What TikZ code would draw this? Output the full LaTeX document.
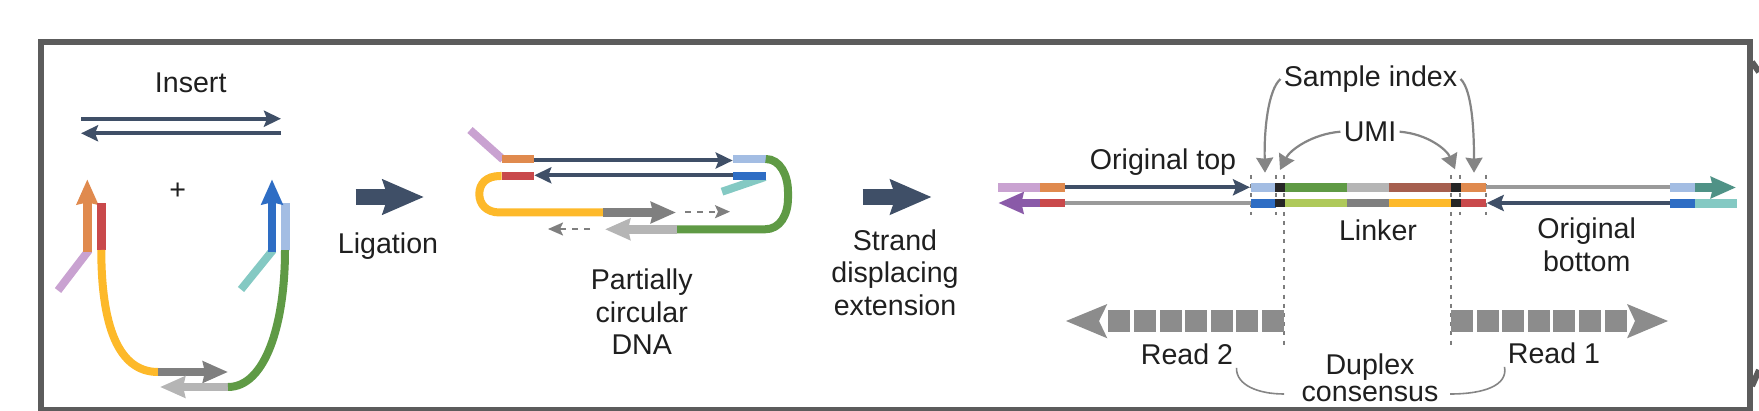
\documentclass[tikz,border=0pt]{standalone}
\usepackage{fontspec}
\setmainfont{Liberation Sans}
\usetikzlibrary{arrows.meta}
\definecolor{cFrame}{HTML}{5C5C5C}
\definecolor{cNavy}{HTML}{3F4F67}
\definecolor{cOrange}{HTML}{E08A4E}
\definecolor{cRed}{HTML}{C9494B}
\definecolor{cLilac}{HTML}{C9A2D1}
\definecolor{cPurple}{HTML}{8A5AA8}
\definecolor{cYellow}{HTML}{FDB92A}
\definecolor{cDark}{HTML}{7F7F7F}
\definecolor{cRead}{HTML}{8C8C8C}
\definecolor{cLight}{HTML}{B5B5B5}
\definecolor{cGreen}{HTML}{5F9A45}
\definecolor{cLime}{HTML}{AFC95A}
\definecolor{cBrown}{HTML}{A65F4F}
\definecolor{cPale}{HTML}{A3BDE3}
\definecolor{cBlue}{HTML}{2E6DC4}
\definecolor{cTeal}{HTML}{84C9C3}
\definecolor{cSea}{HTML}{4F9286}
\definecolor{cLead}{HTML}{858585}
\tikzset{
    label/.style={font=\fontsize{14.3}{16.2}\selectfont, text=black!88, align=center, inner sep=1.5pt},
    strand/.style={line width=4pt, line cap=butt},
    thinarrow/.style={cNavy, line width=2pt, -{Stealth[length=8.5pt,width=8pt,inset=1.5pt]}},
    fatarrow/.style={line width=4.2pt, -{Stealth[length=12.5pt,width=10.5pt,inset=1pt]}},
    dasharrow/.style={cDark, line width=1pt, dashed, -{Stealth[length=7.5pt,width=6.5pt,inset=1.5pt]}},
    bigarrow/.style={cNavy, line width=8pt, -{Stealth[length=20.5pt,width=17pt,inset=2.5pt]}},
    pointer/.style={cLead, line width=1.1pt, -{Stealth[length=7.5pt,width=8.5pt,inset=0.5pt]}},
    brace/.style={cLead, line width=0.8pt},
    cut/.style={cFrame!80, line width=0.8pt, dash pattern=on 2pt off 2.6pt}
}
\begin{document}
\begin{tikzpicture}[x=0.5pt,y=-0.5pt]
    \useasboundingbox (0,0) rectangle (1759,411);
    \draw[cFrame, line width=3pt] (41,42.5) rectangle (1749.7,410);
    \draw[cFrame, line width=3pt] (1752,62) -- (1759,72);
    \draw[cFrame, line width=3pt] (1752,386) -- (1759,370);

    \node[label] (insert) at (190.7,83) {Insert};
    \draw[thinarrow] (81,118.7) -- (281,118.7);
    \draw[thinarrow] (281,133.3) -- (81,133.3);
    \node[label] (plus) at (177.7,191.7) {+};

    \draw[strand, cLilac] (89,250) -- (58,290.5);
    \draw[fatarrow, cOrange] (87.3,252) -- (87.3,179.3);
    \fill[cRed] (97,202.7) rectangle (105.7,250);
    \draw[strand, cYellow] (101.3,250) .. controls (101.3,325) and (118,372) .. (158,372);
    \draw[fatarrow, cDark] (158,372) -- (228,372);
    \draw[fatarrow, cLight] (228,387) -- (160,387);
    \draw[strand, cGreen] (228,387) .. controls (265,387) and (285,325) .. (285,250);
    \fill[cPale] (281,202.7) rectangle (289.5,250);
    \draw[strand, cTeal] (273,250) -- (241,289.5);
    \draw[fatarrow, cBlue] (272,252) -- (272,179.3);

    \draw[bigarrow] (355.7,197) -- (424,197);
    \node[label] (ligation) at (388,246) {Ligation};

    \draw[strand, cLilac] (470,130) -- (503,159.5);
    \fill[cOrange] (501.7,155) rectangle (533.7,163.3);
    \draw[thinarrow] (533.7,160.5) -- (732.7,160.5);
    \fill[cPale] (732.7,155) rectangle (765.7,163.3);
    \fill[cRed] (501.7,171.7) rectangle (533.7,180.3);
    \draw[thinarrow] (732.7,175.3) -- (534.3,175.3);
    \draw[strand, cTeal] (765,177) -- (722,191.7);
    \fill[cBlue] (732.7,171.7) rectangle (765.7,180.3);
    \draw[strand, cGreen] (765.7,159) .. controls (780,159) and (788,175) .. (788,192) -- (788,198) .. controls (788,215) and (780,229.3) .. (765,229.3) -- (676.7,229.3);
    \draw[strand, cYellow] (501.7,176) -- (500,176) .. controls (486,176) and (479.3,184) .. (479.3,194) .. controls (479.3,204) and (486,212.5) .. (500,212.5) -- (603.3,212.5);
    \draw[fatarrow, cDark] (603.3,212.5) -- (676,212.5);
    \draw[fatarrow, cLight] (676.7,229.3) -- (605,229.3);
    \draw[dasharrow] (685,211.7) -- (730,211.7);
    \draw[dasharrow] (590,229) -- (548,229);
    \node[label] (circular) at (641.7,312) {Partially\\[0.05pt]circular\\[0.05pt]DNA};

    \draw[bigarrow] (862.7,197) -- (931.7,197);
    \node[label] (extension) at (895,272.5) {Strand\\[0.05pt]displacing\\[0.05pt]extension};

    \draw[cut] (1251,175) -- (1251,215);
    \draw[cut] (1276,175) -- (1276,215);
    \draw[cut] (1284,175) -- (1284,347);
    \draw[cut] (1451,175) -- (1451,349);
    \draw[cut] (1460,175) -- (1460,215);
    \draw[cut] (1485.7,175) -- (1485.7,215);

    \fill[cLilac] (998.3,183.3) rectangle (1040,191.7);
    \fill[cOrange] (1040,183.3) rectangle (1064.7,191.7);
    \draw[thinarrow] (1064.7,187.3) -- (1250,187.3);
    \draw[cLight!85!black, line width=2pt] (1064.7,203) -- (1250.7,203);
    \draw[fatarrow, cPurple] (1040,203) -- (998.3,203);
    \fill[cRed] (1040,199) rectangle (1064.7,207.5);
    \fill[cPale] (1250.7,183.3) rectangle (1276,191.7);
    \fill[cBlue] (1250.7,198.7) rectangle (1276,207.7);
    \fill[black!85] (1275,183.3) rectangle (1285,191.7);
    \fill[black!85] (1275,199) rectangle (1285,207.5);
    \fill[cGreen] (1285,183.3) rectangle (1347.3,191.7);
    \fill[cLight] (1347.3,183.3) rectangle (1389.3,191.7);
    \fill[cBrown] (1389.3,183.3) rectangle (1450.7,191.7);
    \fill[cLime] (1285,199) rectangle (1347.3,207.5);
    \fill[cDark] (1347.3,199) rectangle (1389.3,207.5);
    \fill[cYellow] (1389.3,199) rectangle (1450.7,207.5);
    \fill[black!85] (1450.7,183.3) rectangle (1460.5,191.7);
    \fill[black!85] (1450.7,199) rectangle (1460.5,207.5);
    \fill[cOrange] (1460.5,183.3) rectangle (1485.7,191.7);
    \fill[cRed] (1460.5,199) rectangle (1485.7,207.5);
    \draw[cLight!85!black, line width=2pt] (1485.7,187.3) -- (1670,187.3);
    \draw[thinarrow] (1670,203) -- (1486.7,203);
    \fill[cPale] (1670,183.3) rectangle (1695,191.7);
    \draw[fatarrow, cSea] (1695,187.5) -- (1736,187.5);
    \fill[cBlue] (1670,198.7) rectangle (1695,207.7);
    \fill[cTeal] (1695,198.7) rectangle (1736.7,207.7);

    \node[label] (original) at (1163,161.7) {Original top};
    \node[label] (bottom) at (1586.7,245) {Original\\[0.05pt]bottom};
    \node[label] (linker) at (1378,230) {Linker};
    \node[label] (sample) at (1370.5,79) {Sample index};
    \node[label] (umi) at (1370,131.7) {UMI};
    \coordinate (sampleleft) at (1265,172.7);
    \coordinate (sampleright) at (1474,172.7);
    \coordinate (umileft) at (1280,170);
    \coordinate (umiright) at (1455,169.3);
    \draw[pointer] (sample.west) .. controls (1268,90) and (1264,130) .. (sampleleft);
    \draw[pointer] (sample.east) .. controls (1472,90) and (1474,130) .. (sampleright);
    \draw[pointer] (umi.west) .. controls (1312,134) and (1290,150) .. (umileft);
    \draw[pointer] (umi.east) .. controls (1428,134) and (1447,150) .. (umiright);

    \foreach \i in {0,...,6} {
        \fill[cRead] ({1284-\i*25.6-22},310.3) rectangle ({1284-\i*25.6},331.7);
        \fill[cRead] ({1451+\i*25.6},310.3) rectangle ({1451+\i*25.6+22},331.7);
    }
    \fill[cRead] (1107.3,304) -- (1066,321) -- (1107.3,338.3) -- (1099,321) -- cycle;
    \fill[cRead] (1627,304) -- (1668,321) -- (1627,338.3) -- (1635,321) -- cycle;

    \node[label] (readtwo) at (1187,354) {Read 2};
    \node[label] (readone) at (1554,353) {Read 1};
    \node[label] (duplex) at (1370,378) {Duplex\\[-2.6pt]consensus};
    \coordinate (duplexleft) at (1284,394);
    \coordinate (duplexright) at (1450,394);
    \draw[brace] (readtwo.south east) .. controls (1236,385) and (1258,394) .. (duplexleft);
    \draw[brace] (duplexright) .. controls (1485,394) and (1508,385) .. (readone.south west);
\end{tikzpicture}
\end{document}
